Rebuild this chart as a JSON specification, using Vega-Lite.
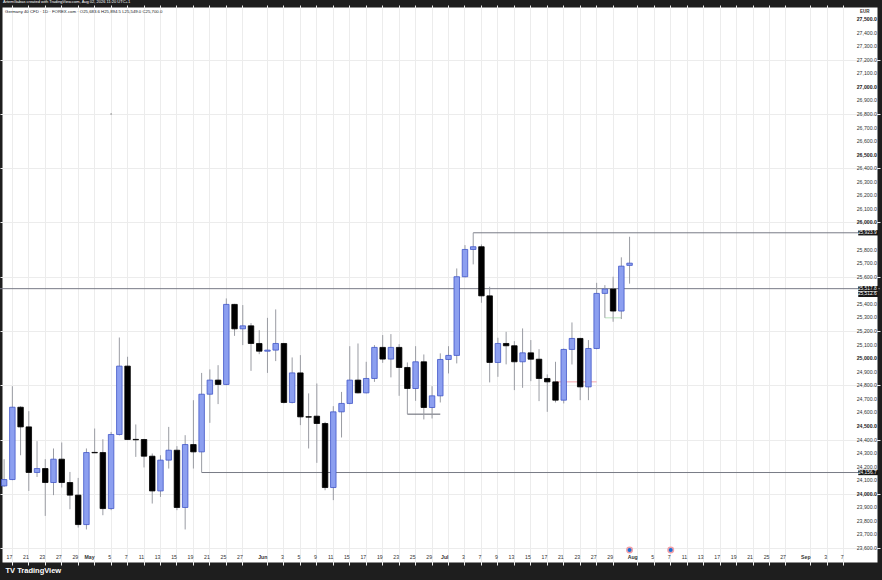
{
  "$schema": "https://vega.github.io/schema/vega-lite/v6.json",
  "description": "Germany 40 CFD daily candles, Apr to Jul 2026, TradingView style",
  "width": 880,
  "height": 560,
  "autosize": {"type": "none"},
  "padding": {"left": 0, "top": 5, "right": 2, "bottom": 15},
  "background": "#1e1e1e",
  "title": {
    "text": "ArtemGabas created with TradingView.com, Aug 02, 2026 11:20 UTC+1",
    "anchor": "start",
    "frame": "group",
    "fontSize": 4,
    "fontWeight": "normal",
    "font": "Liberation Sans",
    "color": "#ffffff",
    "offset": 1,
    "dx": 3
  },
  "datasets": {
    "priceScale": [
      {"price": 23600}, {"price": 23700}, {"price": 23800}, {"price": 23900}, {"price": 24000},
      {"price": 24100}, {"price": 24200}, {"price": 24300}, {"price": 24400}, {"price": 24500},
      {"price": 24600}, {"price": 24700}, {"price": 24800}, {"price": 24900}, {"price": 25000},
      {"price": 25100}, {"price": 25200}, {"price": 25300}, {"price": 25400},
      {"price": 25600}, {"price": 25700}, {"price": 25800}, {"price": 26000},
      {"price": 26100}, {"price": 26200}, {"price": 26300}, {"price": 26400}, {"price": 26500},
      {"price": 26600}, {"price": 26700}, {"price": 26800}, {"price": 26900}, {"price": 27000},
      {"price": 27100}, {"price": 27200}, {"price": 27300}, {"price": 27400}, {"price": 27500}
    ]
  },
  "data": {
    "values": [
      {"day": "2026-04-16", "open": 24058, "high": 24255, "low": 24051, "close": 24105},
      {"day": "2026-04-17", "open": 24105, "high": 24793, "low": 24100, "close": 24638},
      {"day": "2026-04-20", "open": 24638, "high": 24645, "low": 24284, "close": 24493},
      {"day": "2026-04-21", "open": 24493, "high": 24609, "low": 24021, "close": 24157},
      {"day": "2026-04-22", "open": 24157, "high": 24388, "low": 24124, "close": 24186},
      {"day": "2026-04-23", "open": 24186, "high": 24255, "low": 23837, "close": 24083},
      {"day": "2026-04-24", "open": 24083, "high": 24334, "low": 23990, "close": 24255},
      {"day": "2026-04-27", "open": 24255, "high": 24378, "low": 24046, "close": 24083},
      {"day": "2026-04-28", "open": 24083, "high": 24161, "low": 23886, "close": 23990},
      {"day": "2026-04-29", "open": 23990, "high": 24117, "low": 23751, "close": 23773},
      {"day": "2026-04-30", "open": 23773, "high": 24334, "low": 23737, "close": 24304},
      {"day": "2026-05-01", "open": 24305, "high": 24481, "low": 24300, "close": 24302},
      {"day": "2026-05-04", "open": 24304, "high": 24402, "low": 23842, "close": 23891},
      {"day": "2026-05-05", "open": 23891, "high": 24456, "low": 23879, "close": 24437},
      {"day": "2026-05-06", "open": 24437, "high": 25152, "low": 24430, "close": 24941},
      {"day": "2026-05-07", "open": 24941, "high": 25010, "low": 24395, "close": 24400},
      {"day": "2026-05-08", "open": 24401, "high": 24511, "low": 24272, "close": 24398},
      {"day": "2026-05-11", "open": 24400, "high": 24405, "low": 24194, "close": 24277},
      {"day": "2026-05-12", "open": 24277, "high": 24297, "low": 23928, "close": 24021},
      {"day": "2026-05-13", "open": 24021, "high": 24284, "low": 23977, "close": 24248},
      {"day": "2026-05-14", "open": 24248, "high": 24493, "low": 24186, "close": 24321},
      {"day": "2026-05-15", "open": 24321, "high": 24351, "low": 23879, "close": 23899},
      {"day": "2026-05-18", "open": 23899, "high": 24432, "low": 23737, "close": 24363},
      {"day": "2026-05-19", "open": 24363, "high": 24690, "low": 24186, "close": 24309},
      {"day": "2026-05-20", "open": 24309, "high": 24891, "low": 24157, "close": 24734},
      {"day": "2026-05-21", "open": 24734, "high": 24917, "low": 24523, "close": 24838},
      {"day": "2026-05-22", "open": 24838, "high": 24948, "low": 24661, "close": 24806},
      {"day": "2026-05-25", "open": 24806, "high": 25440, "low": 24800, "close": 25396},
      {"day": "2026-05-26", "open": 25396, "high": 25400, "low": 25164, "close": 25216},
      {"day": "2026-05-27", "open": 25216, "high": 25391, "low": 25096, "close": 25238},
      {"day": "2026-05-28", "open": 25238, "high": 25258, "low": 24906, "close": 25108},
      {"day": "2026-05-29", "open": 25108, "high": 25206, "low": 25029, "close": 25051},
      {"day": "2026-06-01", "open": 25051, "high": 25297, "low": 24891, "close": 25059},
      {"day": "2026-06-02", "open": 25059, "high": 25359, "low": 24978, "close": 25108},
      {"day": "2026-06-03", "open": 25108, "high": 25112, "low": 24666, "close": 24673},
      {"day": "2026-06-04", "open": 24673, "high": 25005, "low": 24666, "close": 24891},
      {"day": "2026-06-05", "open": 24891, "high": 25022, "low": 24506, "close": 24567},
      {"day": "2026-06-08", "open": 24568, "high": 24740, "low": 24334, "close": 24565},
      {"day": "2026-06-09", "open": 24572, "high": 24813, "low": 24228, "close": 24518},
      {"day": "2026-06-10", "open": 24518, "high": 24530, "low": 24026, "close": 24046},
      {"day": "2026-06-11", "open": 24046, "high": 24646, "low": 23953, "close": 24604},
      {"day": "2026-06-12", "open": 24604, "high": 24751, "low": 24415, "close": 24666},
      {"day": "2026-06-15", "open": 24666, "high": 25088, "low": 24660, "close": 24838},
      {"day": "2026-06-16", "open": 24838, "high": 25108, "low": 24740, "close": 24744},
      {"day": "2026-06-17", "open": 24744, "high": 24973, "low": 24740, "close": 24850},
      {"day": "2026-06-18", "open": 24850, "high": 25096, "low": 24825, "close": 25079},
      {"day": "2026-06-19", "open": 25079, "high": 25170, "low": 24965, "close": 24993},
      {"day": "2026-06-22", "open": 24993, "high": 25177, "low": 24858, "close": 25079},
      {"day": "2026-06-23", "open": 25079, "high": 25103, "low": 24722, "close": 24931},
      {"day": "2026-06-24", "open": 24931, "high": 24968, "low": 24587, "close": 24776},
      {"day": "2026-06-25", "open": 24776, "high": 25088, "low": 24685, "close": 24973},
      {"day": "2026-06-26", "open": 24973, "high": 25027, "low": 24548, "close": 24636},
      {"day": "2026-06-29", "open": 24636, "high": 24793, "low": 24555, "close": 24722},
      {"day": "2026-06-30", "open": 24722, "high": 25035, "low": 24673, "close": 24990},
      {"day": "2026-07-01", "open": 24990, "high": 25088, "low": 24887, "close": 25020},
      {"day": "2026-07-02", "open": 25020, "high": 25661, "low": 24961, "close": 25600},
      {"day": "2026-07-03", "open": 25600, "high": 25833, "low": 25595, "close": 25801},
      {"day": "2026-07-06", "open": 25801, "high": 25923.9, "low": 25691, "close": 25821},
      {"day": "2026-07-07", "open": 25821, "high": 25838, "low": 25408, "close": 25459},
      {"day": "2026-07-08", "open": 25459, "high": 25526, "low": 24821, "close": 24968},
      {"day": "2026-07-09", "open": 24968, "high": 25150, "low": 24862, "close": 25108},
      {"day": "2026-07-10", "open": 25108, "high": 25194, "low": 24954, "close": 25091},
      {"day": "2026-07-13", "open": 25091, "high": 25125, "low": 24764, "close": 24973},
      {"day": "2026-07-14", "open": 24973, "high": 25219, "low": 24781, "close": 25039},
      {"day": "2026-07-15", "open": 25039, "high": 25133, "low": 24830, "close": 24992},
      {"day": "2026-07-16", "open": 24992, "high": 25066, "low": 24683, "close": 24850},
      {"day": "2026-07-17", "open": 24850, "high": 24880, "low": 24604, "close": 24825},
      {"day": "2026-07-20", "open": 24825, "high": 24973, "low": 24673, "close": 24690},
      {"day": "2026-07-21", "open": 24690, "high": 25071, "low": 24666, "close": 25064},
      {"day": "2026-07-22", "open": 25064, "high": 25263, "low": 24953, "close": 25145},
      {"day": "2026-07-23", "open": 25145, "high": 25150, "low": 24690, "close": 24788},
      {"day": "2026-07-24", "open": 24788, "high": 25133, "low": 24690, "close": 25071},
      {"day": "2026-07-27", "open": 25071, "high": 25555, "low": 25065, "close": 25477},
      {"day": "2026-07-28", "open": 25477, "high": 25538, "low": 25297, "close": 25509},
      {"day": "2026-07-29", "open": 25509, "high": 25600, "low": 25268, "close": 25347},
      {"day": "2026-07-30", "open": 25347, "high": 25743, "low": 25288, "close": 25678},
      {"day": "2026-07-31", "open": 25683.6, "high": 25894.5, "low": 25549.0, "close": 25700.0}
    ]
  },
  "layer": [
    {
      "data": {"values": [{"price": 25512}]},
      "mark": {"type": "rule", "color": "#787b86", "strokeWidth": 1},
      "encoding": {
        "y": {"field": "price", "type": "quantitative"}
      }
    },
    {
      "data": {
        "values": [
          {"start": "2026-07-06", "end": "2026-09-09", "price": 25923.9, "kind": "level"},
          {"start": "2026-05-20", "end": "2026-09-09", "price": 24156.7, "kind": "level"},
          {"start": "2026-06-24", "end": "2026-06-30", "price": 24587, "kind": "bracket"},
          {"start": "2026-07-20", "end": "2026-07-27", "price": 24825, "kind": "red"},
          {"start": "2026-07-28", "end": "2026-07-30", "price": 25297, "kind": "green"}
        ]
      },
      "mark": {"type": "rule", "strokeWidth": 1},
      "encoding": {
        "x": {"field": "start", "type": "ordinal"},
        "x2": {"field": "end"},
        "y": {"field": "price", "type": "quantitative"},
        "color": {
          "field": "kind",
          "type": "nominal",
          "scale": {
            "domain": ["level", "bracket", "red", "green"],
            "range": ["#787b86", "#5d606b", "#f4a3ab", "#b9e3bc"]
          },
          "legend": null
        }
      }
    },
    {
      "mark": {"type": "rule", "color": "#9a9ca3", "strokeWidth": 1},
      "encoding": {
        "x": {
          "field": "day",
          "type": "ordinal",
          "scale": {
            "type": "band",
            "paddingInner": 0,
            "paddingOuter": 0.465,
            "align": 0,
            "domain": [
              "2026-04-16","2026-04-17","2026-04-20","2026-04-21","2026-04-22","2026-04-23","2026-04-24","2026-04-27","2026-04-28","2026-04-29","2026-04-30",
              "2026-05-01","2026-05-04","2026-05-05","2026-05-06","2026-05-07","2026-05-08","2026-05-11","2026-05-12","2026-05-13","2026-05-14","2026-05-15","2026-05-18","2026-05-19","2026-05-20","2026-05-21","2026-05-22","2026-05-25","2026-05-26","2026-05-27","2026-05-28","2026-05-29",
              "2026-06-01","2026-06-02","2026-06-03","2026-06-04","2026-06-05","2026-06-08","2026-06-09","2026-06-10","2026-06-11","2026-06-12","2026-06-15","2026-06-16","2026-06-17","2026-06-18","2026-06-19","2026-06-22","2026-06-23","2026-06-24","2026-06-25","2026-06-26","2026-06-29","2026-06-30",
              "2026-07-01","2026-07-02","2026-07-03","2026-07-06","2026-07-07","2026-07-08","2026-07-09","2026-07-10","2026-07-13","2026-07-14","2026-07-15","2026-07-16","2026-07-17","2026-07-20","2026-07-21","2026-07-22","2026-07-23","2026-07-24","2026-07-27","2026-07-28","2026-07-29","2026-07-30","2026-07-31",
              "2026-08-03","2026-08-04","2026-08-05","2026-08-06","2026-08-07","2026-08-10","2026-08-11","2026-08-12","2026-08-13","2026-08-14","2026-08-17","2026-08-18","2026-08-19","2026-08-20","2026-08-21","2026-08-24","2026-08-25","2026-08-26","2026-08-27","2026-08-28","2026-08-31",
              "2026-09-01","2026-09-02","2026-09-03","2026-09-04","2026-09-07","2026-09-08","2026-09-09","2026-09-10"
            ]
          },
          "axis": {
            "orient": "bottom",
            "offset": -9,
            "values": [
              "2026-04-17","2026-04-21","2026-04-23","2026-04-27","2026-04-29",
              "2026-05-01","2026-05-05","2026-05-07","2026-05-11","2026-05-13","2026-05-15","2026-05-19","2026-05-21","2026-05-25","2026-05-27",
              "2026-06-01","2026-06-03","2026-06-05","2026-06-09","2026-06-11","2026-06-15","2026-06-17","2026-06-19","2026-06-23","2026-06-25","2026-06-29",
              "2026-07-01","2026-07-03","2026-07-07","2026-07-09","2026-07-13","2026-07-15","2026-07-17","2026-07-21","2026-07-23","2026-07-27","2026-07-29",
              "2026-08-03","2026-08-05","2026-08-07","2026-08-11","2026-08-13","2026-08-17","2026-08-19","2026-08-21","2026-08-25","2026-08-27",
              "2026-09-01","2026-09-03","2026-09-07"
            ],
            "labelExpr": "indexof(['2026-05-01','2026-06-01','2026-07-01','2026-08-03','2026-09-01'], datum.value) >= 0 ? utcFormat(toDate(datum.value), '%b') : utcFormat(toDate(datum.value), '%-d')",
            "labelFontWeight": {
              "condition": {"test": "indexof(['2026-05-01','2026-06-01','2026-07-01','2026-08-03','2026-09-01'], datum.value) >= 0", "value": "bold"},
              "value": "normal"
            },
            "bandPosition": 0.5,
            "labelAngle": 0,
            "labelPadding": 0,
            "labelFontSize": 5.2,
            "labelColor": "#333333",
            "labelOverlap": false,
            "ticks": false,
            "domain": false,
            "grid": true,
            "title": "TV TradingView",
            "titleColor": "#ffffff",
            "titleFontSize": 7.5,
            "titleFontWeight": "bold",
            "titleFont": "Liberation Sans",
            "titleAlign": "left",
            "titleX": 5,
            "titlePadding": 7.5
          }
        },
        "y": {
          "field": "low",
          "type": "quantitative",
          "scale": {"domain": [23475, 27603], "nice": false, "zero": false},
          "axis": {
            "orient": "right",
            "values": [23600,23700,23800,23900,24000,24100,24200,24300,24400,24500,24600,24700,24800,24900,25000,25100,25200,25300,25400,25500,25600,25700,25800,25900,26000,26100,26200,26300,26400,26500,26600,26700,26800,26900,27000,27100,27200,27300,27400,27500],
            "labels": false,
            "ticks": false,
            "domain": false,
            "grid": true,
            "title": null
          }
        },
        "y2": {"field": "high"}
      }
    },
    {
      "mark": {"type": "bar", "size": 5.5, "strokeWidth": 0.8},
      "encoding": {
        "x": {"field": "day", "type": "ordinal"},
        "y": {"field": "open", "type": "quantitative"},
        "y2": {"field": "close"},
        "fill": {
          "condition": {"test": "datum.close > datum.open", "value": "#8c9ff0"},
          "value": "#000000"
        },
        "stroke": {
          "condition": {"test": "datum.close > datum.open", "value": "#4157c8"},
          "value": "#000000"
        }
      }
    },
    {
      "data": {"values": [{"day": "2026-07-31", "price": 23585}, {"day": "2026-08-07", "price": 23585}]},
      "mark": {"type": "point", "shape": "circle", "filled": true, "size": 30, "color": "#1b6fd6", "stroke": "#f2a0a8", "strokeWidth": 1.5, "opacity": 1},
      "encoding": {
        "x": {"field": "day", "type": "ordinal"},
        "y": {"field": "price", "type": "quantitative"}
      }
    },
    {
      "data": {"values": [{"day": "2026-05-05", "price": 26800}]},
      "mark": {"type": "point", "shape": "circle", "filled": true, "size": 2, "color": "#777777", "opacity": 1},
      "encoding": {
        "x": {"field": "day", "type": "ordinal"},
        "y": {"field": "price", "type": "quantitative"}
      }
    },
    {
      "data": {"name": "priceScale"},
      "transform": [{"filter": "datum.price % 500 !== 0"}],
      "mark": {"type": "text", "fontSize": 5.2, "font": "Liberation Sans", "color": "#333333", "align": "left", "baseline": "middle", "dx": -11.5},
      "encoding": {
        "x": {"datum": "2026-09-10", "type": "ordinal"},
        "y": {"field": "price", "type": "quantitative"},
        "text": {"field": "price", "type": "quantitative", "format": ",.1f"}
      }
    },
    {
      "data": {"name": "priceScale"},
      "transform": [{"filter": "datum.price % 500 === 0"}],
      "mark": {"type": "text", "fontSize": 5.2, "fontWeight": "bold", "font": "Liberation Sans", "color": "#222222", "align": "left", "baseline": "middle", "dx": -11.5},
      "encoding": {
        "x": {"datum": "2026-09-10", "type": "ordinal"},
        "y": {"field": "price", "type": "quantitative"},
        "text": {"field": "price", "type": "quantitative", "format": ",.1f"}
      }
    },
    {
      "data": {
        "values": [
          {"price": 25923.9, "label": "25,923.9"},
          {"price": 25512, "label": "25,517.8"},
          {"price": 25470, "label": "25,512.6"},
          {"price": 24156.7, "label": "24,156.7"}
        ]
      },
      "layer": [
        {
          "mark": {"type": "tick", "size": 20, "thickness": 5.3, "color": "#161616", "opacity": 1},
          "encoding": {
            "x": {"datum": "2026-09-10", "type": "ordinal"},
            "y": {"field": "price", "type": "quantitative"}
          }
        },
        {
          "mark": {"type": "text", "color": "#ffffff", "fontSize": 4.8, "font": "Liberation Sans", "align": "center", "baseline": "middle", "dx": -1},
          "encoding": {
            "x": {"datum": "2026-09-10", "type": "ordinal"},
            "y": {"field": "price", "type": "quantitative"},
            "text": {"field": "label"}
          }
        }
      ]
    },
    {
      "data": {
        "values": [
          {"day": "2026-04-16", "price": 27551, "label": "Germany 40 CFD · 1D · FOREX.com · O25,683.6 H25,894.5 L25,549.0 C25,700.0"}
        ]
      },
      "mark": {"type": "text", "fontSize": 4.3, "font": "Liberation Sans", "color": "#131722", "align": "left", "baseline": "middle", "dx": 1},
      "encoding": {
        "x": {"field": "day", "type": "ordinal"},
        "y": {"field": "price", "type": "quantitative"},
        "text": {"field": "label"}
      }
    },
    {
      "data": {"values": [{"price": 27551, "label": "EUR"}]},
      "mark": {"type": "text", "fontSize": 4.5, "fontWeight": "bold", "font": "Liberation Sans", "color": "#333333", "align": "center", "baseline": "middle", "dx": -3.5},
      "encoding": {
        "x": {"datum": "2026-09-10", "type": "ordinal"},
        "y": {"field": "price", "type": "quantitative"},
        "text": {"field": "label"}
      }
    }
  ],
  "config": {
    "font": "Liberation Sans",
    "view": {"fill": "#ffffff", "stroke": "#1e1e1e", "strokeWidth": 5},
    "axis": {"labelFont": "Liberation Sans", "gridColor": "#ececec", "gridWidth": 1}
  }
}
